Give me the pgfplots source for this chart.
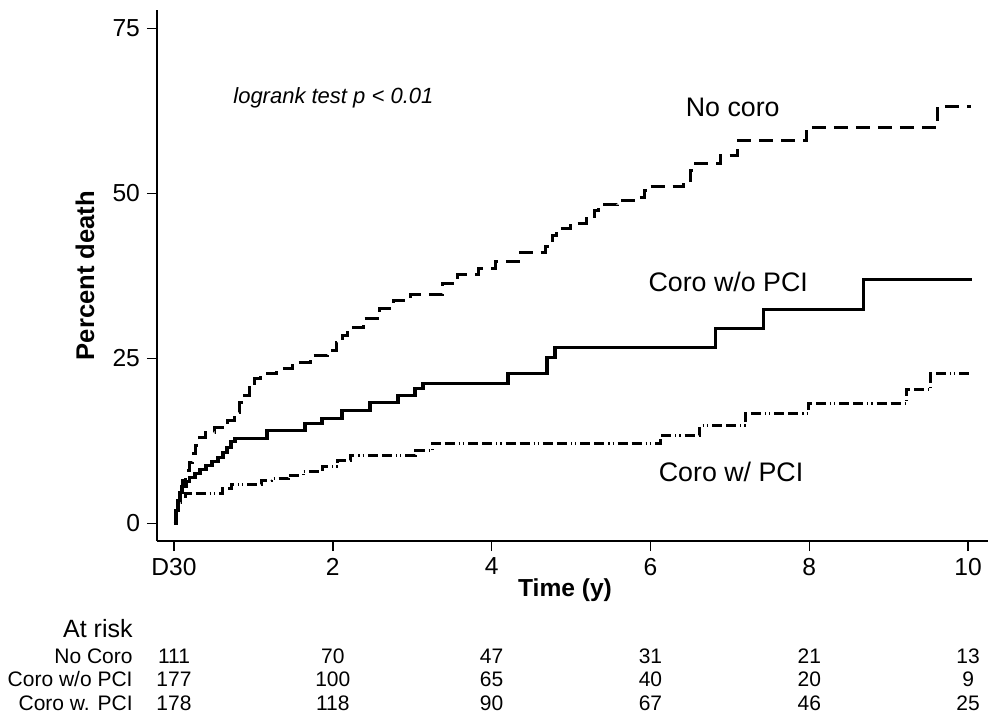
\documentclass[border=0pt]{standalone}
\usepackage{fontspec}
\setmainfont{Liberation Sans}
\usepackage{pgfplots}
\pgfplotsset{compat=1.18}
\tikzset{
  tabnum/.style={anchor=base, inner sep=0pt, font=\fontsize{10.5}{12}\selectfont},
  tablab/.style={anchor=base east, inner sep=0pt, font=\fontsize{10.5}{12}\selectfont},
  curvelab/.style={anchor=base west, inner sep=0pt, font=\fontsize{13.4}{15}\selectfont},
}
\begin{document}
\begin{tikzpicture}
\path[use as bounding box] (-78.5pt,-88pt) rectangle (416pt,270.5pt);
\begin{axis}[
  at={(0pt,0pt)}, anchor=south west,
  scale only axis, width=415.5pt, height=265.5pt,
  xmin=-0.214, xmax=10.25, ymin=-2.65, ymax=77.8,
  axis x line*=bottom, axis y line*=left,
  axis line style={line width=0.8pt},
  xtick={0,2,4,6,8,10}, xticklabels={D30,2,4,6,8,10},
  ytick={0,25,50,75},
  minor tick num=0,
  tick align=outside, major tick length=5pt,
  tick style={black, line width=0.8pt},
  /pgf/number format/assume math mode=true,
  ticklabel style={font=\fontsize{12.3}{14}\selectfont},
  xlabel={Time (y)}, ylabel={Percent death},
  xlabel style={font=\bfseries\fontsize{12.3}{14}\selectfont, at={(axis description cs:0.491,-0.0923)}, anchor=center},
  ylabel style={font=\bfseries\fontsize{12.8}{14}\selectfont, at={(axis description cs:-0.0866,0.5)}, anchor=center},
  clip=false,
]
% No coro (dashed)
\addplot[const plot, black, line width=1.5pt, dash pattern=on 7pt off 4pt] coordinates {
(0,0) (0.025,2.0) (0.05,3.5) (0.076,5.0) (0.113,6.5) (0.151,8.0) (0.189,9.2)
(0.227,10.6) (0.277,11.8) (0.327,13.0) (0.403,13.8) (0.516,14.5) (0.68,15.6)
(0.756,16.8) (0.83,18.3) (0.894,19.4) (0.957,20.6) (1.02,22.0) (1.083,22.7)
(1.297,23.5) (1.486,24.4) (1.713,25.5) (1.927,26.2) (2.04,27.4) (2.116,28.5)
(2.19,29.7) (2.38,31.1) (2.594,32.6) (2.758,33.8) (2.972,34.7) (3.375,36.4)
(3.564,37.7) (3.829,38.6) (4.043,39.7) (4.358,41.1) (4.673,42.0) (4.761,43.6)
(4.811,44.7) (4.987,45.5) (5.2,46.2) (5.29,47.4) (5.34,48.3) (5.58,48.9)
(5.78,49.4) (5.93,50.5) (5.995,51.1) (6.41,52.0) (6.5,53.5) (6.54,54.5)
(6.88,55.8) (7.09,58.0) (7.97,60.0) (9.61,63.2) (10.03,63.2)
};
% Coro w/o PCI (solid)
\addplot[const plot, black, line width=1.6pt] coordinates {
(0,0) (0.025,2.0) (0.05,3.5) (0.076,4.7) (0.1,5.6) (0.151,6.4) (0.2,7.0)
(0.264,7.6) (0.327,8.2) (0.403,8.8) (0.479,9.4) (0.554,10.0) (0.617,10.8)
(0.667,11.5) (0.718,12.4) (0.768,12.9) (1.171,14.1) (1.65,15.2) (1.864,15.9)
(2.116,17.1) (2.468,18.3) (2.821,19.4) (3.035,20.5) (3.136,21.2) (4.207,22.7)
(4.698,25.2) (4.798,26.7) (6.814,29.5) (7.418,32.4) (8.678,37.0) (10.05,37.0)
};
% Coro w/ PCI (dash-dot-dot)
\addplot[const plot, black, line width=1.5pt, dash pattern=on 5pt off 2pt on 5pt off 2pt on 0.6pt off 1.5pt on 0.6pt off 2pt] coordinates {
(0,0) (0.025,2.0) (0.05,3.2) (0.088,4.1) (0.151,4.5) (0.605,5.3) (0.73,5.9)
(1.108,6.5) (1.234,6.8) (1.436,7.3) (1.625,7.9) (1.864,8.6) (2.065,9.5)
(2.217,10.3) (3.035,11.0) (3.249,12.1) (6.12,13.3) (6.62,14.8) (7.2,16.7)
(7.985,18.2) (9.22,20.3) (9.53,22.7) (10.06,22.7)
};
% annotations
\node[anchor=base west, inner sep=0pt, font=\itshape\fontsize{11}{13}\selectfont] at (axis cs:0.743,63.6) {logrank test p < 0.01};
\node[curvelab] at (axis cs:6.44,61.6) {No coro};
\node[curvelab] at (axis cs:5.97,35.1) {Coro w/o PCI};
\node[curvelab] at (axis cs:6.10,6.3) {Coro w/ PCI};
% at-risk table
\node[anchor=base east, inner sep=0pt, font=\fontsize{12.5}{14}\selectfont] at (axis cs:-0.516,-17.2) {At risk};
\node[tablab] at (axis cs:-0.516,-21.2) {No Coro};
\node[tablab] at (axis cs:-0.516,-24.7) {Coro w/o PCI};
\node[tablab] at (axis cs:-0.516,-28.3) {Coro w. PCI};
\node[tabnum] at (axis cs:0,-21.2) {111};
\node[tabnum] at (axis cs:2,-21.2) {70};
\node[tabnum] at (axis cs:4,-21.2) {47};
\node[tabnum] at (axis cs:6,-21.2) {31};
\node[tabnum] at (axis cs:8,-21.2) {21};
\node[tabnum] at (axis cs:10,-21.2) {13};
\node[tabnum] at (axis cs:0,-24.7) {177};
\node[tabnum] at (axis cs:2,-24.7) {100};
\node[tabnum] at (axis cs:4,-24.7) {65};
\node[tabnum] at (axis cs:6,-24.7) {40};
\node[tabnum] at (axis cs:8,-24.7) {20};
\node[tabnum] at (axis cs:10,-24.7) {9};
\node[tabnum] at (axis cs:0,-28.3) {178};
\node[tabnum] at (axis cs:2,-28.3) {118};
\node[tabnum] at (axis cs:4,-28.3) {90};
\node[tabnum] at (axis cs:6,-28.3) {67};
\node[tabnum] at (axis cs:8,-28.3) {46};
\node[tabnum] at (axis cs:10,-28.3) {25};
\end{axis}
\end{tikzpicture}
\end{document}
